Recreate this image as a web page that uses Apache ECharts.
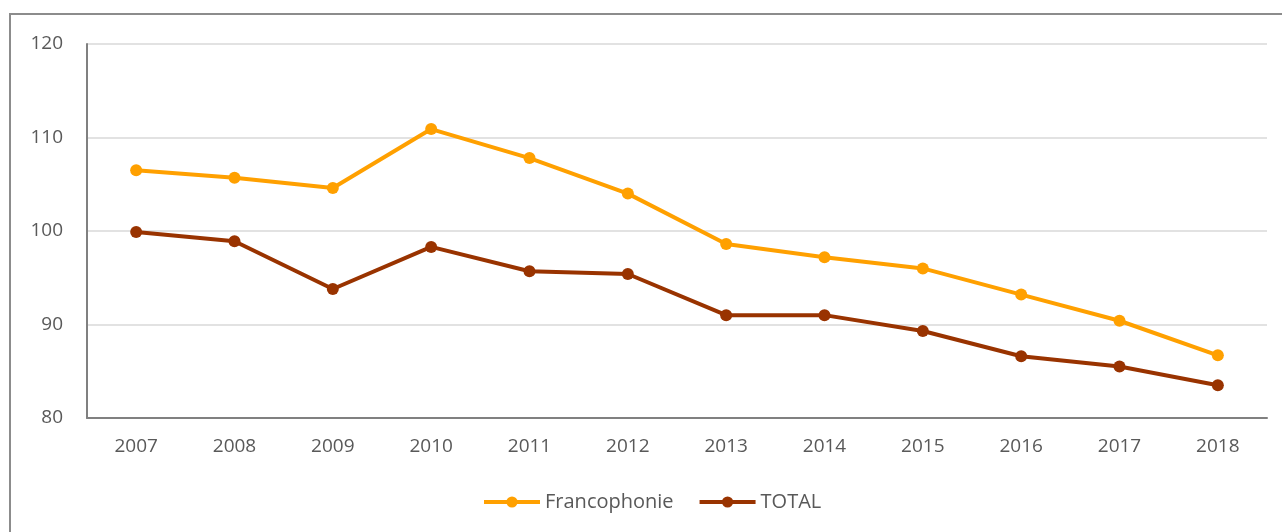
<!DOCTYPE html>
<html><head><meta charset="utf-8">
<script src="https://cdn.jsdelivr.net/npm/echarts@6/dist/echarts.min.js"></script>
<style>html,body{margin:0;padding:0;background:#fff}#c{width:1282px;height:532px}</style>
</head><body><div id="c"></div>
<script>
const years = ['2007','2008','2009','2010','2011','2012','2013','2014','2015','2016','2017','2018'];
const francophonie = [106.5, 105.7, 104.6, 110.9, 107.8, 104.0, 98.6, 97.2, 96.0, 93.2, 90.4, 86.7];
const total = [99.9, 98.9, 93.8, 98.3, 95.7, 95.4, 91.0, 91.0, 89.3, 86.6, 85.5, 83.5];
const yTicks = {min: 80, max: 120, interval: 10};

const chart = echarts.init(document.getElementById('c'), null, {renderer: 'canvas'});
const font = '"Open Sans", "Liberation Sans", sans-serif';
chart.setOption({
  animation: false,
  graphic: [{
    type: 'polyline', silent: true,
    shape: {points: [[10, 540], [10, 14], [1290, 14]]},
    style: {stroke: '#8c8c8c', lineWidth: 2, fill: null}
  }],
  grid: {left: 87, right: 15, top: 44, bottom: 114, containLabel: false},
  legend: {
    bottom: 15, left: 477, itemWidth: 56, itemHeight: 14, itemGap: 24,
    lineStyle: {width: 4},
    textStyle: {fontFamily: font, fontSize: 20, color: '#595959'},
    data: ['Francophonie', 'TOTAL']
  },
  xAxis: {
    type: 'category', data: years, boundaryGap: true,
    axisLine: {lineStyle: {color: '#808080', width: 2}},
    axisTick: {show: false},
    axisLabel: {fontFamily: font, fontSize: 19, color: '#595959', margin: 19}
  },
  yAxis: {
    type: 'value', min: yTicks.min, max: yTicks.max, interval: yTicks.interval,
    axisLine: {show: true, lineStyle: {color: '#808080', width: 2}},
    axisTick: {show: false},
    splitLine: {lineStyle: {color: '#d9d9d9', width: 1.5}},
    axisLabel: {fontFamily: font, fontSize: 19, color: '#595959', margin: 24}
  },
  series: [
    {name: 'Francophonie', type: 'line', data: francophonie, symbol: 'circle', symbolSize: 12,
     lineStyle: {color: '#FFA000', width: 4}, itemStyle: {color: '#FFA000'}},
    {name: 'TOTAL', type: 'line', data: total, symbol: 'circle', symbolSize: 12,
     lineStyle: {color: '#993300', width: 4}, itemStyle: {color: '#993300'}}
  ]
});
</script></body></html>
